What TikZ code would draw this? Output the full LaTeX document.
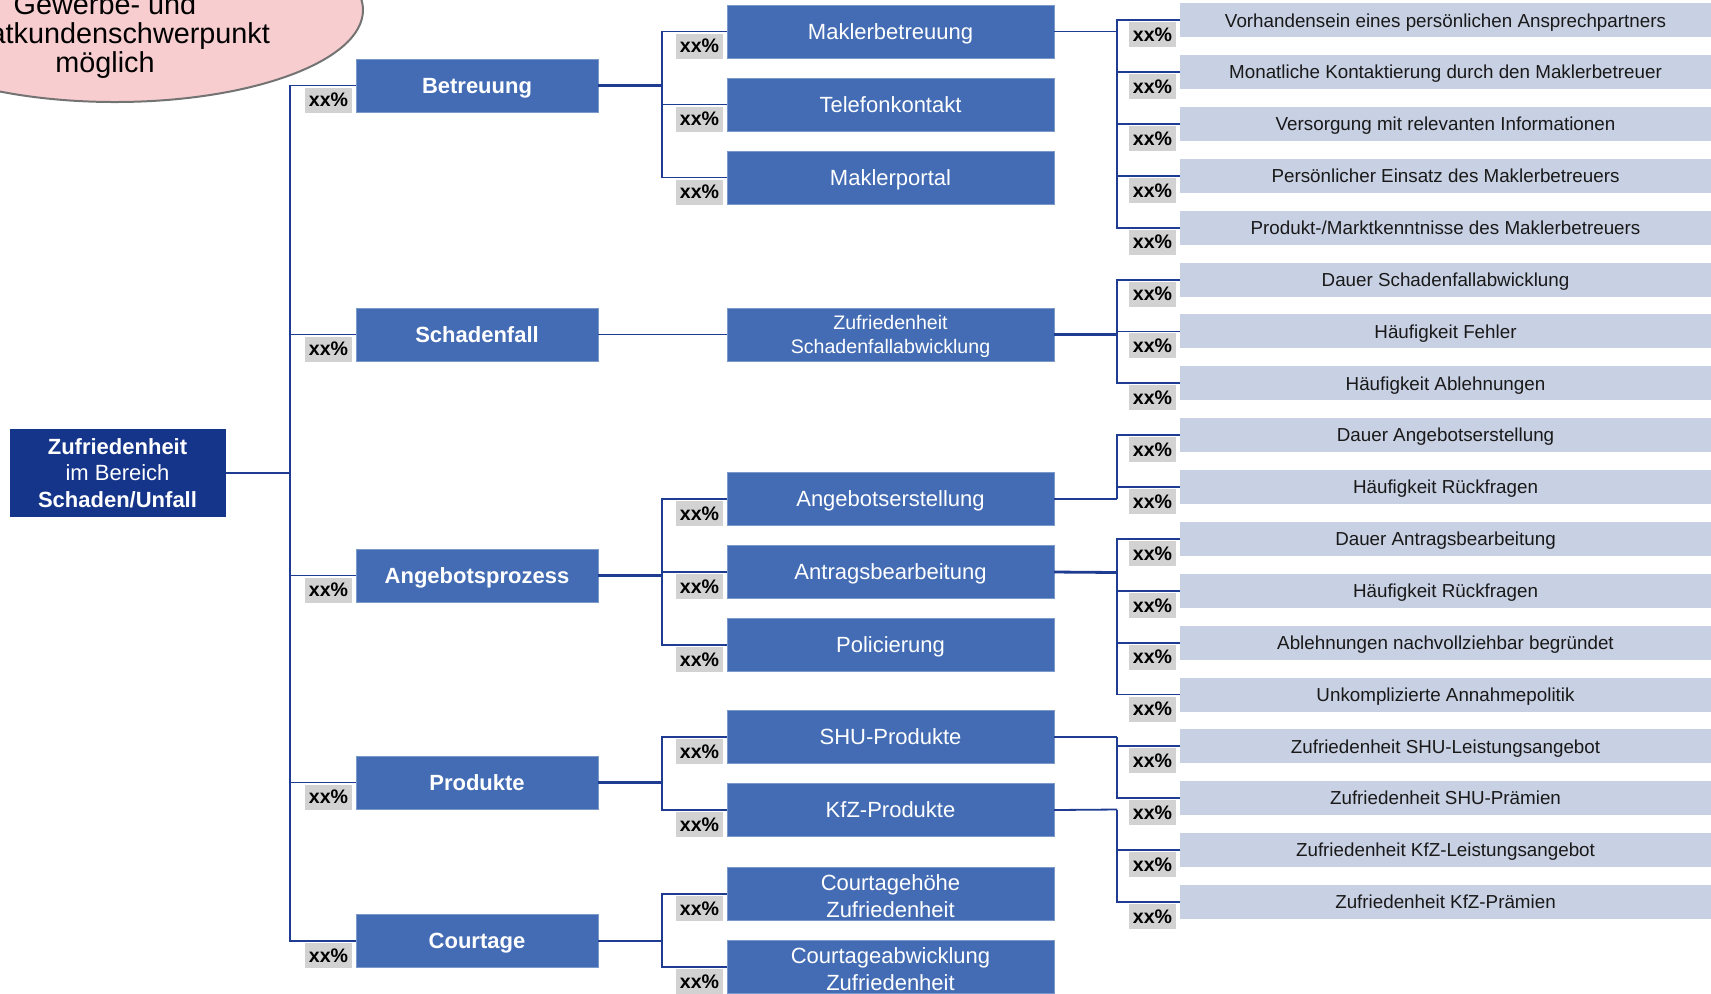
\documentclass[tikz,border=0pt]{standalone}
\usepackage{fontspec}
\setmainfont{Liberation Sans}
\usetikzlibrary{positioning}
\usetikzlibrary{shapes.geometric}
\definecolor{rootblue}{RGB}{21,53,138}
\definecolor{boxblue}{RGB}{67,108,180}
\definecolor{leafblue}{RGB}{200,208,227}
\definecolor{linkblue}{RGB}{30,60,145}
\definecolor{pctgray}{RGB}{210,210,210}
\definecolor{notepink}{RGB}{248,205,207}
\tikzset{x = 0.5pt, y = -0.5pt, node distance = 10pt, outer sep = 0pt,
  rootbox/.style = {fill = rootblue, text = white, minimum width = 108pt, minimum height = 44pt,
    inner sep = 0pt, align = center, font = \fontsize{11}{13.3}\selectfont},
  mainbox/.style = {fill = boxblue, draw = boxblue!70!white, line width = 0.4pt, text = white,
    minimum width = 121pt, minimum height = 26.5pt, inner sep = 0pt, text height = 9.6pt,
    text depth = 2pt, font = \fontsize{11}{13}\selectfont\bfseries},
  subtwo/.style = {fill = boxblue, draw = boxblue!70!white, line width = 0.4pt, text = white,
    minimum width = 163.5pt, minimum height = 26.5pt, inner sep = 0pt, align = center,
    font = \fontsize{11}{13.5}\selectfont},
  subbox/.style = {subtwo, text height = 9.8pt, text depth = 2pt},
  leafbox/.style = {fill = leafblue, text = black!90, minimum width = 265.5pt, minimum height = 17pt,
    inner sep = 0pt, text height = 8.5pt, text depth = 1.8pt, node distance = 8.93pt,
    font = \fontsize{9.4}{11}\selectfont},
  pct/.style = {fill = pctgray, anchor = north east, minimum width = 23.5pt, minimum height = 12.5pt,
    inner sep = 0pt, xshift = -2pt, yshift = -1pt, font = \fontsize{9.8}{11}\selectfont\bfseries},
  note/.style = {ellipse, fill = notepink, draw = black!55, line width = 1pt, minimum width = 248pt,
    minimum height = 92pt, inner sep = 0pt},
  notetext/.style = {align = center, inner sep = 0pt, font = \fontsize{14.4}{14.6}\selectfont},
  link/.style = {draw = linkblue, line width = 0.9pt},
  trunk/.style = {draw = linkblue, line width = 1.4pt}}
\begin{document}
\begin{tikzpicture}
  \useasboundingbox (0,0) rectangle (1711,993);
  % hint
  \node [note] (note) at (115,10) {};
  \node [notetext] (notetext) at (105,36) {Gewerbe- und\\Privatkundenschwerpunkt\\möglich};
  % nodes
  \node [rootbox] (root) at (117.5,473) {\textbf{Zufriedenheit}\\im Bereich\\\textbf{Schaden/Unfall}};
  \node [mainbox] (betr) at (477,85.5) {Betreuung};
  \node [mainbox] (schad) at (477,334.5) {Schadenfall};
  \node [mainbox] (angp) at (477,575.5) {Angebotsprozess};
  \node [mainbox] (prod) at (477,782.5) {Produkte};
  \node [mainbox] (court) at (477,941) {Courtage};
  \node [subbox] (mb) at (890.5,31.5) {Maklerbetreuung};
  \node [subbox, below = of mb] (tel) {Telefonkontakt};
  \node [subbox, below = of tel] (portal) {Maklerportal};
  \node [subtwo, font = \fontsize{9.8}{12}\selectfont] (zsa) at (890.5,334.5) {\rule{0pt}{9pt}Zufriedenheit\\Schadenfallabwicklung};
  \node [subbox] (ange) at (890.5,499) {Angebotserstellung};
  \node [subbox, below = of ange] (antr) {Antragsbearbeitung};
  \node [subbox, below = of antr] (pol) {Policierung};
  \node [subbox] (shu) at (890.5,737) {SHU-Produkte};
  \node [subbox, below = of shu] (kfz) {KfZ-Produkte};
  \node [subtwo] (chh) at (890.5,894) {\rule{0pt}{10pt}Courtagehöhe\\Zufriedenheit};
  \node [subtwo, below = of chh] (cab) {\rule{0pt}{10pt}Courtageabwicklung\\Zufriedenheit};
  \node [leafbox] (vorh) at (1445.5,20.3) {Vorhandensein eines persönlichen Ansprechpartners};
  \node [leafbox, below = of vorh] (monat) {Monatliche Kontaktierung durch den Maklerbetreuer};
  \node [leafbox, below = of monat] (versorg) {Versorgung mit relevanten Informationen};
  \node [leafbox, below = of versorg] (einsatz) {Persönlicher Einsatz des Maklerbetreuers};
  \node [leafbox, below = of einsatz] (kenntn) {Produkt-/Marktkenntnisse des Maklerbetreuers};
  \node [leafbox, below = of kenntn] (dauers) {Dauer Schadenfallabwicklung};
  \node [leafbox, below = of dauers] (fehler) {Häufigkeit Fehler};
  \node [leafbox, below = of fehler] (ablehn) {Häufigkeit Ablehnungen};
  \node [leafbox, below = of ablehn] (dauera) {Dauer Angebotserstellung};
  \node [leafbox, below = of dauera] (rueck1) {Häufigkeit Rückfragen};
  \node [leafbox, below = of rueck1] (dauerant) {Dauer Antragsbearbeitung};
  \node [leafbox, below = of dauerant] (rueck2) {Häufigkeit Rückfragen};
  \node [leafbox, below = of rueck2] (begr) {Ablehnungen nachvollziehbar begründet};
  \node [leafbox, below = of begr] (annahme) {Unkomplizierte Annahmepolitik};
  \node [leafbox, below = of annahme] (shuleist) {Zufriedenheit SHU-Leistungsangebot};
  \node [leafbox, below = of shuleist] (shupraem) {Zufriedenheit SHU-Prämien};
  \node [leafbox, below = of shupraem] (kfzleist) {Zufriedenheit KfZ-Leistungsangebot};
  \node [leafbox, below = of kfzleist] (kfzpraem) {Zufriedenheit KfZ-Prämien};
  % junctions
  \coordinate (j0) at (290,473);
  \coordinate (jbetr) at (662,85.5);
  \coordinate (jangp) at (662,575.5);
  \coordinate (jprod) at (662,782.5);
  \coordinate (jcourt) at (662,941);
  \coordinate (jmb) at (1117,31.5);
  \coordinate (jzsa) at (1117,334.5);
  \coordinate (jange) at (1117,499);
  \coordinate (jantr) at (1117,572.5);
  \coordinate (jshu) at (1117,737);
  \coordinate (jkfz) at (1117,809.5);
  % paths
  \draw [trunk] (root.east) -- (j0);
  \draw [link] (j0) |- (betr.west);
  \draw [link] (j0) |- (schad.west);
  \draw [link] (j0) |- (angp.west);
  \draw [link] (j0) |- (prod.west);
  \draw [link] (j0) |- (court.west);
  \draw [trunk] (betr.east) -- (jbetr);
  \draw [link] (jbetr) |- (mb.west);
  \draw [link] (jbetr) |- (tel.west);
  \draw [link] (jbetr) |- (portal.west);
  \draw [link] (schad.east) -- (zsa.west);
  \draw [trunk] (angp.east) -- (jangp);
  \draw [link] (jangp) |- (ange.west);
  \draw [link] (jangp) |- (antr.west);
  \draw [link] (jangp) |- (pol.west);
  \draw [trunk] (prod.east) -- (jprod);
  \draw [link] (jprod) |- (shu.west);
  \draw [link] (jprod) |- (kfz.west);
  \draw [trunk] (court.east) -- (jcourt);
  \draw [link] (jcourt) |- (chh.west);
  \draw [link] (jcourt) |- (cab.west);
  \draw [link] (mb.east) -- (jmb);
  \draw [link] (jmb) |- (vorh.west);
  \draw [link] (jmb) |- (monat.west);
  \draw [link] (jmb) |- (versorg.west);
  \draw [link] (jmb) |- (einsatz.west);
  \draw [link] (jmb) |- (kenntn.west);
  \draw [trunk] (zsa.east) -- (jzsa);
  \draw [link] (jzsa) |- (dauers.west);
  \draw [link] (jzsa) |- (fehler.west);
  \draw [link] (jzsa) |- (ablehn.west);
  \draw [link] (ange.east) -- (jange);
  \draw [link] (jange) |- (dauera.west);
  \draw [link] (jange) |- (rueck1.west);
  \draw [trunk] (antr.east) -- (jantr);
  \draw [link] (jantr) |- (dauerant.west);
  \draw [link] (jantr) |- (rueck2.west);
  \draw [link] (jantr) |- (begr.west);
  \draw [link] (jantr) |- (annahme.west);
  \draw [link] (shu.east) -- (jshu);
  \draw [link] (jshu) |- (shuleist.west);
  \draw [link] (jshu) |- (shupraem.west);
  \draw [link] (kfz.east) -- (jkfz);
  \draw [link] (jkfz) |- (kfzleist.west);
  \draw [link] (jkfz) |- (kfzpraem.west);
  % weights
  \node [pct] (p-betr) at (betr.west) {xx\%};
  \node [pct] (p-schad) at (schad.west) {xx\%};
  \node [pct] (p-angp) at (angp.west) {xx\%};
  \node [pct] (p-prod) at (prod.west) {xx\%};
  \node [pct] (p-court) at (court.west) {xx\%};
  \node [pct] (p-mb) at (mb.west) {xx\%};
  \node [pct] (p-tel) at (tel.west) {xx\%};
  \node [pct] (p-portal) at (portal.west) {xx\%};
  \node [pct] (p-ange) at (ange.west) {xx\%};
  \node [pct] (p-antr) at (antr.west) {xx\%};
  \node [pct] (p-pol) at (pol.west) {xx\%};
  \node [pct] (p-shu) at (shu.west) {xx\%};
  \node [pct] (p-kfz) at (kfz.west) {xx\%};
  \node [pct] (p-chh) at (chh.west) {xx\%};
  \node [pct] (p-cab) at (cab.west) {xx\%};
  \node [pct] (p-vorh) at (vorh.west) {xx\%};
  \node [pct] (p-monat) at (monat.west) {xx\%};
  \node [pct] (p-versorg) at (versorg.west) {xx\%};
  \node [pct] (p-einsatz) at (einsatz.west) {xx\%};
  \node [pct] (p-kenntn) at (kenntn.west) {xx\%};
  \node [pct] (p-dauers) at (dauers.west) {xx\%};
  \node [pct] (p-fehler) at (fehler.west) {xx\%};
  \node [pct] (p-ablehn) at (ablehn.west) {xx\%};
  \node [pct] (p-dauera) at (dauera.west) {xx\%};
  \node [pct] (p-rueck1) at (rueck1.west) {xx\%};
  \node [pct] (p-dauerant) at (dauerant.west) {xx\%};
  \node [pct] (p-rueck2) at (rueck2.west) {xx\%};
  \node [pct] (p-begr) at (begr.west) {xx\%};
  \node [pct] (p-annahme) at (annahme.west) {xx\%};
  \node [pct] (p-shuleist) at (shuleist.west) {xx\%};
  \node [pct] (p-shupraem) at (shupraem.west) {xx\%};
  \node [pct] (p-kfzleist) at (kfzleist.west) {xx\%};
  \node [pct] (p-kfzpraem) at (kfzpraem.west) {xx\%};
\end{tikzpicture}
\end{document}
